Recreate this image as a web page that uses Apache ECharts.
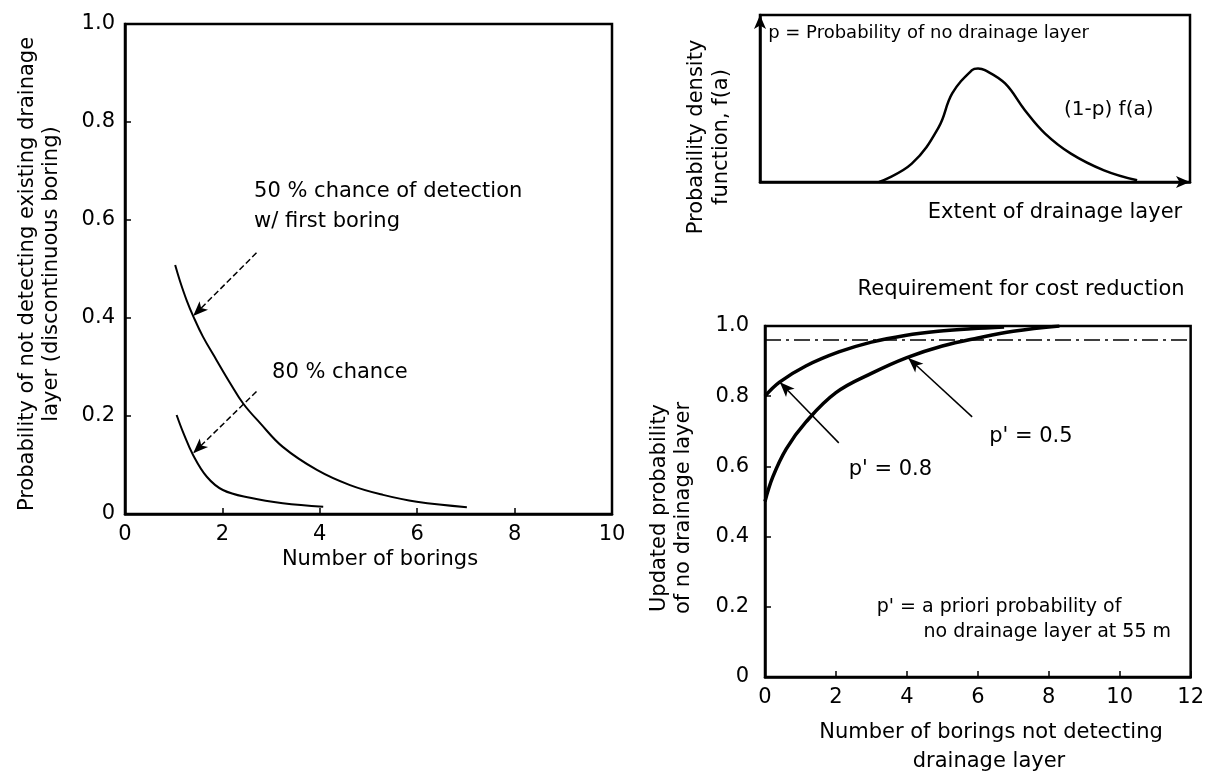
<!DOCTYPE html>
<html>
<head>
<meta charset="utf-8">
<script src="https://cdn.jsdelivr.net/npm/echarts@6/dist/echarts.min.js"></script>
<style>
html,body{margin:0;padding:0;background:#fff;}
#chart{width:1207px;height:783px;}
</style>
</head>
<body>
<div id="chart"></div>
<script>
// ---------------- DATA ----------------
// Left chart: probability of not detecting an existing drainage layer
const leftXTicks = [0, 2, 4, 6, 8, 10];
const leftYTicks = [0, 0.2, 0.4, 0.6, 0.8, 1.0];
const chance50X = [1.03, 1.13, 1.27, 1.40, 1.60, 1.88, 2.16, 2.43, 2.77, 3.24, 3.94, 4.62, 5.30, 5.99, 7.02];
const chance50Y = [0.508, 0.475, 0.435, 0.404, 0.362, 0.314, 0.267, 0.225, 0.186, 0.137, 0.090, 0.059, 0.039, 0.025, 0.014];
const chance80X = [1.06, 1.20, 1.40, 1.68, 2.01, 2.57, 3.24, 4.07];
const chance80Y = [0.202, 0.165, 0.120, 0.076, 0.049, 0.033, 0.022, 0.015];

// Top-right chart: probability density function of drainage layer extent
const pdfX = [2.77, 3.53, 4.16, 4.47, 4.93, 5.07, 5.23, 5.70, 6.16, 6.63, 7.23, 8.00, 8.77];
const pdfY = [0.00, 0.11, 0.33, 0.53, 0.67, 0.68, 0.67, 0.59, 0.43, 0.29, 0.17, 0.07, 0.01];

// Bottom-right chart: updated probability of no drainage layer
const rightXTicks = [0, 2, 4, 6, 8, 10, 12];
const rightYTicks = [0, 0.2, 0.4, 0.6, 0.8, 1.0];
const prior05X = [0, 0.22, 0.6, 1.15, 2.0, 3.0, 4.0, 5.0, 6.0, 7.0, 8.3];
const prior05Y = [0.50, 0.57, 0.65, 0.726, 0.81, 0.865, 0.91, 0.943, 0.966, 0.985, 1.0];
const prior08X = [0, 0.41, 1.15, 2.08, 3.0, 3.95, 4.88, 5.81, 6.74];
const prior08Y = [0.80, 0.84, 0.886, 0.926, 0.954, 0.973, 0.985, 0.992, 0.997];
const requirementLevel = 0.96;

// Annotation texts and anchor points (data coordinates)
const leftNotes = [
  [2.65, 0.627, '50 % chance of detection\nw/ first boring'],
  [3.02, 0.288, '80 % chance']
];
const leftArrows = [
  [[2.70, 0.533], [1.40, 0.404]],
  [[2.70, 0.250], [1.40, 0.124]]
];
const pdfNotes = [
  [0.19, 0.892, 'p = Probability of no drainage layer', 18],
  [7.07, 0.431, '(1-p) f(a)', 20]
];
const rightNotes = [
  [2.61, 1.103, 'Requirement for cost reduction', 21],
  [2.36, 0.590, "p' = 0.8", 21],
  [6.32, 0.684, "p' = 0.5", 21],
  [3.15, 0.199, "p' = a priori probability of", 19],
  [4.47, 0.128, 'no drainage layer at 55 m', 19]
];
const rightArrows = [
  [[2.36, 1.068], [1.57, 0.966]],
  [[2.08, 0.667], [0.42, 0.840]],
  [[5.84, 0.741], [4.04, 0.909]]
];

// ---------------- CHART ----------------
const FONT = 'DejaVu Sans';
const zip = (xs, ys) => xs.map((x, i) => [x, ys[i]]);
const fmtY = v => (v === 0 ? '0' : v.toFixed(1));

function valueAxis(grid, min, max, interval, fmt, margin) {
  return {
    type: 'value', gridIndex: grid, min: min, max: max, interval: interval,
    axisLine: {show: true, onZero: false, lineStyle: {color: '#000', width: 2.5}},
    axisTick: {show: true, inside: true, length: 6, lineStyle: {color: '#000', width: 1.5}},
    axisLabel: {show: true, color: '#000', fontFamily: FONT, fontSize: 21, margin: margin, formatter: fmt},
    splitLine: {show: false}
  };
}

function noteSeries(x, y, notes, defSize, lh) {
  return {
    type: 'scatter', xAxisIndex: x, yAxisIndex: y, clip: false, silent: true,
    symbol: 'circle', symbolSize: 0, itemStyle: {color: '#000'},
    data: notes.map(n => ({
      value: [n[0], n[1]], txt: n[2],
      label: {fontSize: n[3] || defSize, color: '#000'}
    })),
    label: {
      show: true, position: 'right', distance: 0, color: '#000', opacity: 1,
      fontFamily: FONT, fontSize: defSize, lineHeight: lh, align: 'left', verticalAlign: 'middle',
      formatter: p => p.data.txt
    },
    emphasis: {disabled: true},
    z: 5
  };
}

function arrowSeries(x, y, arrows, dashed) {
  return {
    type: 'line', xAxisIndex: x, yAxisIndex: y, data: [], silent: true,
    markLine: {
      silent: true, animation: false,
      symbol: ['none', 'arrow'], symbolSize: [9, 15],
      label: {show: false},
      lineStyle: {color: '#000', width: 1.5, type: dashed ? [6, 3] : 'solid'},
      data: arrows.map(a => [{coord: a[0]}, {coord: a[1]}])
    }
  };
}

function curve(x, y, xs, ys, width) {
  return {
    type: 'line', xAxisIndex: x, yAxisIndex: y, data: zip(xs, ys),
    smooth: 0.4, showSymbol: false, silent: true,
    lineStyle: {color: '#000', width: width}
  };
}

function title(text, x, y, rotated) {
  return {
    type: 'text', x: x, y: y, rotation: rotated ? Math.PI / 2 : 0,
    style: {text: text, fontFamily: FONT, fontSize: 21, fill: '#000', textAlign: 'center', textVerticalAlign: 'middle'}
  };
}

const chart = echarts.init(document.getElementById('chart'));
const option = {
  backgroundColor: '#fff',
  animation: false,
  grid: [
    {left: 125, top: 24, width: 487, height: 490, show: true, borderColor: '#000', borderWidth: 2.5, backgroundColor: 'transparent'},
    {left: 760, top: 15, width: 430, height: 167, show: true, borderColor: '#000', borderWidth: 2.5, backgroundColor: 'transparent'},
    {left: 765, top: 326, width: 427, height: 351, show: true, borderColor: '#000', borderWidth: 2.5, backgroundColor: 'transparent'}
  ],
  xAxis: [
    valueAxis(0, leftXTicks[0], leftXTicks[leftXTicks.length - 1], leftXTicks[1] - leftXTicks[0], v => String(v), 10),
    {
      type: 'value', gridIndex: 1, min: 0, max: 10,
      axisLine: {show: true, onZero: false, symbol: ['none', 'arrow'], symbolSize: [9, 14], lineStyle: {color: '#000', width: 2.5}},
      axisTick: {show: false}, axisLabel: {show: false}, splitLine: {show: false}
    },
    valueAxis(2, rightXTicks[0], rightXTicks[rightXTicks.length - 1], rightXTicks[1] - rightXTicks[0], v => String(v), 10)
  ],
  yAxis: [
    valueAxis(0, leftYTicks[0], leftYTicks[leftYTicks.length - 1], 0.2, fmtY, 10),
    {
      type: 'value', gridIndex: 1, min: 0, max: 1,
      axisLine: {show: true, onZero: false, symbol: ['none', 'arrow'], symbolSize: [9, 14], lineStyle: {color: '#000', width: 2.5}},
      axisTick: {show: false}, axisLabel: {show: false}, splitLine: {show: false}
    },
    valueAxis(2, rightYTicks[0], rightYTicks[rightYTicks.length - 1], 0.2, fmtY, 16)
  ],
  series: [
    curve(0, 0, chance50X, chance50Y, 2),
    curve(0, 0, chance80X, chance80Y, 2),
    arrowSeries(0, 0, leftArrows, true),
    noteSeries(0, 0, leftNotes, 21, 30),

    curve(1, 1, pdfX, pdfY, 2.5),
    noteSeries(1, 1, pdfNotes, 18, 22),

    {type: 'line', xAxisIndex: 2, yAxisIndex: 2, silent: true,
     data: [[rightXTicks[0], requirementLevel], [rightXTicks[rightXTicks.length - 1], requirementLevel]],
     showSymbol: false, lineStyle: {color: '#000', width: 1.5, type: [16, 5, 3, 5]}},
    curve(2, 2, prior05X, prior05Y, 3.5),
    curve(2, 2, prior08X, prior08Y, 3.5),
    arrowSeries(2, 2, rightArrows, false),
    noteSeries(2, 2, rightNotes, 21, 24)
  ],
  graphic: [
    title('Probability of not detecting existing drainage', 28, 274, true),
    title('layer (discontinuous boring)', 52, 274, true),
    title('Number of borings', 380, 560, false),

    title('Probability density', 697, 137, true),
    title('function, f(a)', 722, 137, true),
    title('Extent of drainage layer', 1055, 213, false),

    title('Updated probability', 660, 508, true),
    title('of no drainage layer', 684, 508, true),
    title('Number of borings not detecting', 991, 733, false),
    title('drainage layer', 989, 762, false)
  ]
};
chart.setOption(option);
</script>
</body>
</html>
